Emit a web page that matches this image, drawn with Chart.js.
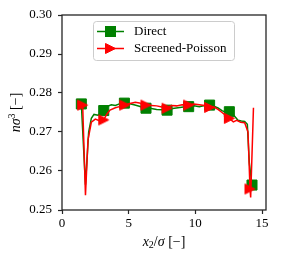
<!DOCTYPE html>
<html><head><meta charset="utf-8">
<script src="https://cdn.jsdelivr.net/npm/chart.js@4/dist/chart.umd.min.js"></script>
<style>html,body{margin:0;padding:0;background:#fff}#wrap{width:281px;height:259px;position:relative}</style>
</head><body><div id="wrap"><canvas id="c" width="281" height="259"></canvas></div>
<script>
// ---- data ----
const directX = [1.45, 1.76, 2.0, 2.2, 2.4, 2.7, 2.9, 3.13, 3.4, 3.7, 4.0, 4.3, 4.68, 5.0, 5.4, 5.8, 6.1, 6.3, 6.7, 7.1, 7.5, 7.88, 8.3, 8.7, 9.1, 9.5, 9.9, 10.3, 10.7, 11.07, 11.4, 11.7, 12.0, 12.3, 12.55, 12.9, 13.2, 13.45, 13.7, 13.9, 14.05, 14.25];
const directY = [0.2772, 0.2565, 0.2700, 0.2735, 0.2745, 0.2743, 0.2748, 0.2755, 0.2766, 0.2770, 0.2768, 0.2772, 0.2774, 0.2773, 0.2770, 0.2766, 0.2762, 0.2761, 0.2760, 0.2758, 0.2757, 0.2756, 0.2760, 0.2762, 0.2764, 0.2765, 0.2767, 0.2765, 0.2768, 0.2769, 0.2766, 0.2762, 0.2755, 0.2750, 0.2752, 0.2742, 0.2730, 0.2728, 0.2727, 0.2720, 0.2620, 0.2564];
const directMarkerX = [1.45, 3.13, 4.68, 6.3, 7.88, 9.5, 11.07, 12.55, 14.25];
const directMarkerY = [0.2772, 0.2755, 0.2774, 0.2761, 0.2756, 0.2765, 0.2769, 0.2752, 0.2564];

const poissonX = [1.55, 1.76, 1.95, 2.2, 2.5, 2.8, 3.13, 3.35, 3.6, 4.0, 4.3, 4.7, 5.1, 5.5, 5.9, 6.3, 6.7, 7.1, 7.5, 7.88, 8.2, 8.6, 9.0, 9.5, 9.9, 10.3, 10.7, 11.07, 11.4, 11.7, 12.0, 12.3, 12.55, 12.85, 13.1, 13.4, 13.7, 13.95, 14.1, 14.15, 14.36];
const poissonY = [0.2769, 0.2538, 0.2680, 0.2725, 0.2733, 0.2729, 0.2731, 0.2745, 0.2756, 0.2762, 0.2765, 0.2769, 0.2773, 0.2776, 0.2774, 0.2769, 0.2768, 0.2767, 0.2764, 0.2761, 0.2768, 0.2767, 0.2770, 0.2769, 0.2772, 0.2770, 0.2768, 0.2763, 0.2764, 0.2758, 0.2750, 0.2742, 0.2735, 0.2726, 0.2730, 0.2725, 0.2724, 0.2700, 0.2554, 0.2532, 0.2762];
const poissonMarkerX = [1.55, 3.13, 4.7, 6.3, 7.88, 9.5, 11.07, 12.55, 14.1];
const poissonMarkerY = [0.2769, 0.2731, 0.2769, 0.2769, 0.2761, 0.2769, 0.2763, 0.2735, 0.2554];

const seriesNames = ['Direct', 'Screened-Poisson'];
const xTicks = [0, 5, 10, 15];
const yTicks = [0.25, 0.26, 0.27, 0.28, 0.29, 0.30];

// ---- helpers ----
const pts = (xs, ys) => xs.map((x, i) => ({x: x, y: ys[i]}));
const GREEN = '#008000', RED = '#ff0000';
const FONT = '"Liberation Serif", "Times New Roman", serif';

function makeTriangle() {
  const c = document.createElement('canvas');
  c.width = 13; c.height = 13;
  const g = c.getContext('2d');
  g.beginPath();
  g.moveTo(1.5, 1.5); g.lineTo(11.5, 6.5); g.lineTo(1.5, 11.5); g.closePath();
  g.fillStyle = RED; g.fill();
  g.strokeStyle = RED; g.lineWidth = 1; g.stroke();
  return c;
}
const tri = makeTriangle();

const framePlugin = {
  id: 'frame',
  afterDatasetsDraw(chart) {
    const a = chart.chartArea, ctx = chart.ctx;
    ctx.save();
    ctx.strokeStyle = '#262626'; ctx.lineWidth = 1.3;
    ctx.strokeRect(a.left, a.top, a.right - a.left, a.bottom - a.top);
    ctx.restore();
  },
  afterDraw(chart) {
    const a = chart.chartArea, ctx = chart.ctx;
    ctx.save();
    // legend
    const bx = 93.5, by = 21.5, bw = 141, bh = 39;
    ctx.beginPath();
    ctx.roundRect(bx, by, bw, bh, 3);
    ctx.fillStyle = 'rgba(255,255,255,0.8)'; ctx.fill();
    ctx.strokeStyle = '#cccccc'; ctx.lineWidth = 1; ctx.stroke();
    const rows = [31.5, 48.5];
    // Direct
    ctx.strokeStyle = GREEN; ctx.lineWidth = 1.5;
    ctx.beginPath(); ctx.moveTo(97, rows[0]); ctx.lineTo(124, rows[0]); ctx.stroke();
    ctx.fillStyle = GREEN; ctx.fillRect(105.5, rows[0] - 5, 10, 10);
    ctx.lineWidth = 1; ctx.strokeRect(105.5, rows[0] - 5, 10, 10);
    // Screened-Poisson
    ctx.strokeStyle = RED; ctx.lineWidth = 1.5;
    ctx.beginPath(); ctx.moveTo(97, rows[1]); ctx.lineTo(124, rows[1]); ctx.stroke();
    ctx.drawImage(tri, 110.5 - 6.5, rows[1] - 6.5);
    ctx.fillStyle = '#000'; ctx.font = '13px ' + FONT;
    ctx.textBaseline = 'middle'; ctx.textAlign = 'left';
    ctx.fillText(seriesNames[0], 134, rows[0] + 0.5);
    ctx.fillText(seriesNames[1], 134, rows[1] + 0.5);

    // axis titles with mixed italic/upright parts
    function drawParts(parts, cx, cy) {
      let total = 0;
      parts.forEach(p => { ctx.font = p.f; total += ctx.measureText(p.t).width; });
      let x = cx - total / 2;
      parts.forEach(p => {
        ctx.font = p.f; ctx.textAlign = 'left'; ctx.textBaseline = 'alphabetic';
        ctx.fillText(p.t, x, cy + (p.dy || 0));
        x += ctx.measureText(p.t).width;
      });
    }
    const it = 'italic 14px ' + FONT, up = '14px ' + FONT, sm = '10px ' + FONT;
    ctx.fillStyle = '#000';
    drawParts([
      {t: 'x', f: it}, {t: '2', f: sm, dy: 2}, {t: '/', f: up}, {t: 'σ', f: it}, {t: ' [−]', f: up}
    ], (a.left + a.right) / 2, 246);
    ctx.save();
    ctx.translate(20, (a.top + a.bottom) / 2);
    ctx.rotate(-Math.PI / 2);
    drawParts([
      {t: 'n', f: it}, {t: 'σ', f: it}, {t: '3', f: sm, dy: -5}, {t: ' [−]', f: up}
    ], 0, 0);
    ctx.restore();
    ctx.restore();
  }
};

new Chart(document.getElementById('c'), {
  type: 'scatter',
  data: {
    datasets: [
      {label: seriesNames[0], data: pts(directX, directY), showLine: true, borderColor: GREEN, borderWidth: 1.5, pointRadius: 0, order: 4, tension: 0},
      {label: seriesNames[0] + ' markers', data: pts(directMarkerX, directMarkerY), showLine: false, pointStyle: 'rect', pointRadius: 7.1, backgroundColor: GREEN, borderColor: GREEN, borderWidth: 1, order: 3},
      {label: seriesNames[1], data: pts(poissonX, poissonY), showLine: true, borderColor: RED, borderWidth: 1.5, pointRadius: 0, order: 2, tension: 0},
      {label: seriesNames[1] + ' markers', data: pts(poissonMarkerX, poissonMarkerY), showLine: false, pointStyle: tri, pointRadius: 6.5, backgroundColor: RED, borderColor: RED, order: 1}
    ]
  },
  options: {
    responsive: false, animation: false,
    layout: {padding: {left: 0, top: 15, right: 15, bottom: 0}},
    plugins: {legend: {display: false}, tooltip: {enabled: false}},
    scales: {
      x: {
        type: 'linear', min: 0, max: 15.3,
        afterFit(s) { s.height = 49; },
        afterBuildTicks(s) { s.ticks = xTicks.map(v => ({value: v})); },
        grid: {drawOnChartArea: false, drawTicks: true, tickLength: 4, tickColor: '#262626', tickWidth: 1.2},
        border: {display: false},
        ticks: {color: '#000', font: {family: FONT, size: 13}, padding: 2, maxRotation: 0, callback: v => String(v)}
      },
      y: {
        type: 'linear', min: 0.25, max: 0.30,
        afterFit(s) { s.width = 62; },
        afterBuildTicks(s) { s.ticks = yTicks.map(v => ({value: v})); },
        grid: {drawOnChartArea: false, drawTicks: true, tickLength: 4, tickColor: '#262626', tickWidth: 1.2},
        border: {display: false},
        ticks: {color: '#000', font: {family: FONT, size: 13}, padding: 6, callback: v => Number(v).toFixed(2)}
      }
    }
  },
  plugins: [framePlugin]
});
</script></body></html>
